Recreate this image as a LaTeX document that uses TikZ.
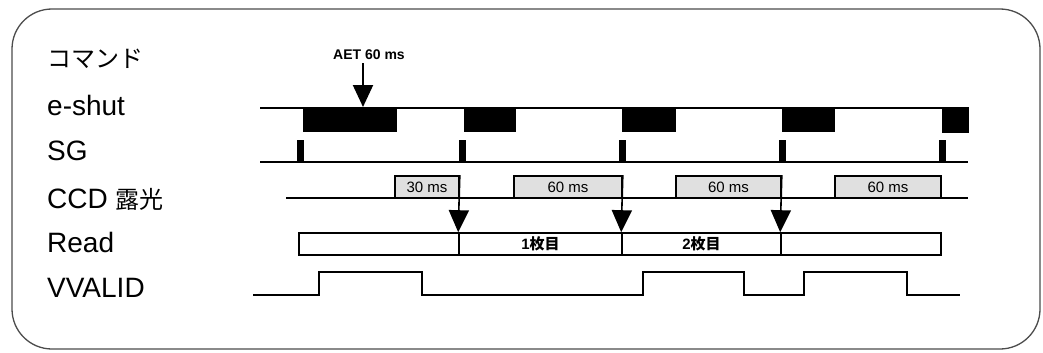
\documentclass[tikz,border=0pt]{standalone}
\usepackage{fontspec}
\setmainfont{Liberation Sans}
\newfontfamily\jpfont{Noto Sans CJK JP}
\usetikzlibrary{arrows.meta,positioning}

\newcommand{\jp}[1]{{\jpfont\fontsize{24}{24}\selectfont #1}}

\begin{document}
\begin{tikzpicture}[
  x=1pt, y=-1pt,            % one unit per pixel of the scan, y downwards
  >={Triangle[width=20pt,length=22pt]},
  sig/.style={line width=2.1pt},
  lbl/.style={anchor=base west, inner sep=0pt, font=\fontsize{28}{28}\selectfont},
  ccdbox/.style={draw, line width=1.6pt, fill=black!12, minimum height=22pt,
                 inner sep=0pt, font=\fontsize{15}{15}\selectfont},
  rdbox/.style={draw, line width=1.6pt, minimum height=22pt, inner sep=0pt,
                font=\bfseries\fontsize{15}{15}\selectfont}
]
\useasboundingbox (0,0) rectangle (1043,353);

% --- frame
\draw[line width=1.3pt, black!70, rounded corners=40pt] (12,9) rectangle (1040,349);

% --- row labels
\node[lbl] (lcmd)  at (47,67)  {\jp{コマンド}};
\node[lbl] (lshut) at (47,115) {e-shut};
\node[lbl] (lsg)   at (47,160) {SG};
\node[lbl] (lccd)  at (47,208) {CCD \jp{露光}};
\node[lbl] (lread) at (47,252) {Read};
\node[lbl] (lvv)   at (47,297) {VVALID};

% ===== command =====
\node[font=\bfseries\fontsize{14}{14}\selectfont] (aet) at (369,55) {AET 60 ms};
\coordinate (aettip) at (363,107);
\draw[sig,->] (aet.south -| aettip) -- (aettip);

% ===== e-shut =====
\draw[sig] (260,108) -- (969,108);
\fill (303,108) rectangle (397,132);
\fill (464,108) rectangle (516,132);
\fill (622,108) rectangle (676,132);
\fill (782,108) rectangle (835,132);
\fill (942,108) rectangle (969,133);

% ===== SG =====
\draw[sig] (260,162) -- (968,162);
\foreach \t in {300,462,622,782,942}
  \fill (\t-3.5,140) rectangle (\t+3.5,162);

% ===== CCD exposure =====
\draw[sig] (286,198) -- (968,198);
\node[ccdbox, minimum width=64pt]  (c1) at (427,187)   {30 ms};
\node[ccdbox, minimum width=108pt] (c2) at (568,187)   {60 ms};
\node[ccdbox, minimum width=105pt] (c3) at (728.5,187) {60 ms};
\node[ccdbox, minimum width=106pt] (c4) at (888,187)   {60 ms};

% ===== Read =====
\node[rdbox, minimum width=160pt] (r0) at (379,244)   {};
\node[rdbox, minimum width=163pt] (r1) at (540.5,244) {1{\jpfont 枚目}};
\node[rdbox, minimum width=159pt] (r2) at (701.5,244) {2{\jpfont 枚目}};
\node[rdbox, minimum width=160pt] (r3) at (861,244)   {};

% transfer arrows
\draw[line width=1.6pt,->] (c1.north east) -- (r1.north west);
\draw[line width=1.6pt,->] (c2.north east) -- (r2.north west);
\draw[line width=1.6pt,->] (c3.north east) -- (r3.north west);

% ===== VVALID =====
\draw[line width=1.8pt] (253,295) -| (319,272) -| (422,295) -| (643,272) -| (744,295)
  -| (804,272) -| (907,295) -- (960,295);

\end{tikzpicture}
\end{document}
